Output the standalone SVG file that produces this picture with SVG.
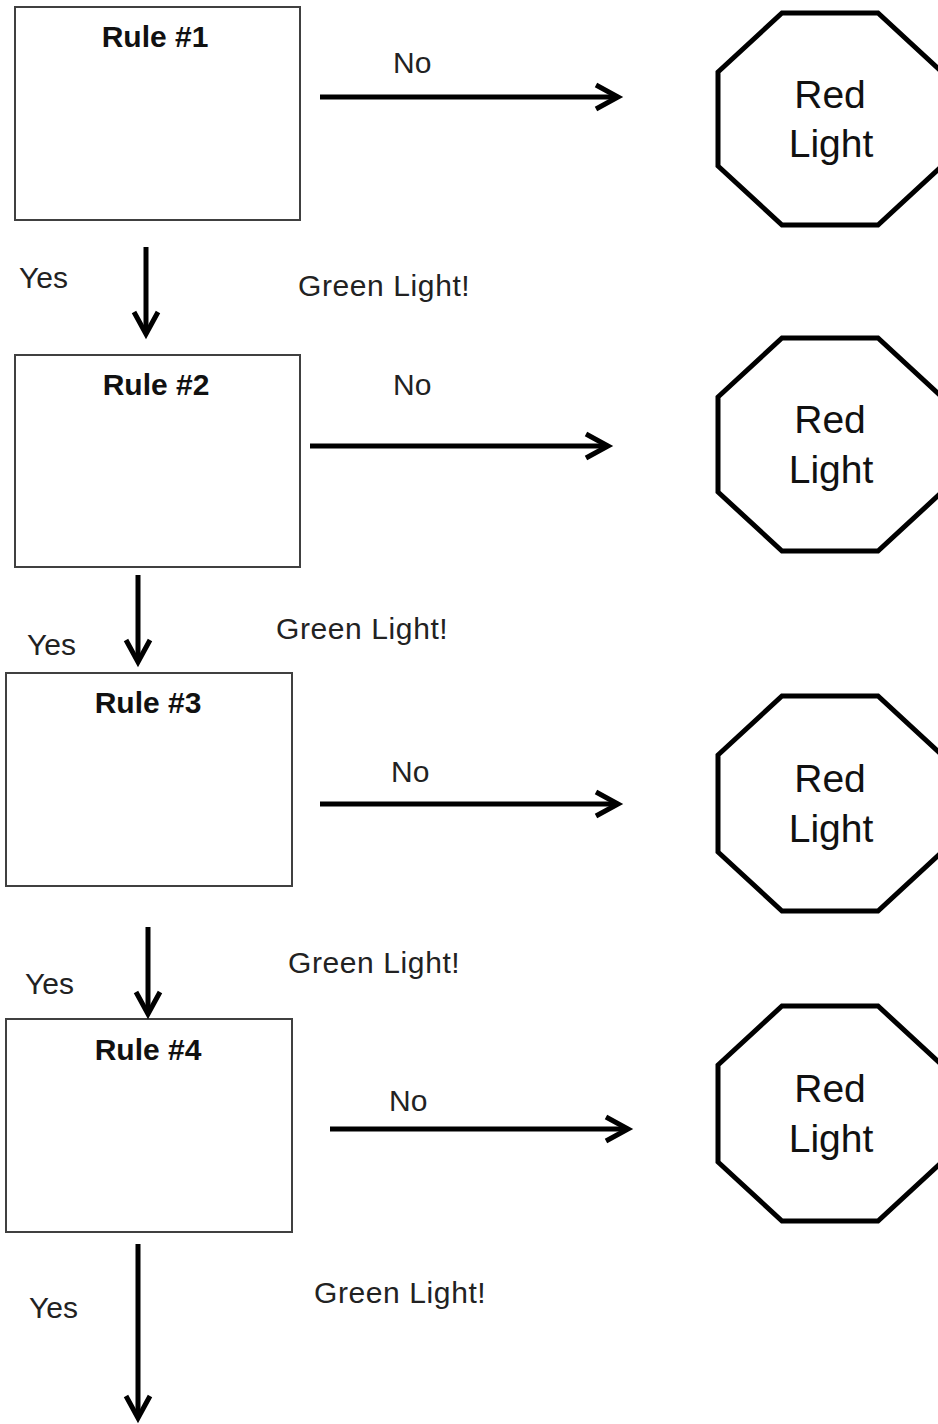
<svg xmlns="http://www.w3.org/2000/svg" width="938" height="1424" viewBox="0 0 938 1424">
<style>
.rule{fill:#fff;stroke:#404040;stroke-width:2}
.oct{fill:#fff;stroke:#000;stroke-width:5;stroke-linejoin:miter}
.title{font-family:"Liberation Sans",Arial,sans-serif;font-weight:bold;font-size:30px;fill:#111;text-anchor:middle}
.lbl{font-family:"Liberation Sans",Arial,sans-serif;font-size:30px;fill:#222}
.green{letter-spacing:0.6px}
.red{font-family:"Liberation Sans",Arial,sans-serif;font-size:39px;fill:#111;text-anchor:middle}
.conn{stroke:#000;stroke-width:5;fill:none;marker-end:url(#arr)}
</style>
<defs>
<marker id="arr" markerUnits="userSpaceOnUse" markerWidth="40" markerHeight="40" viewBox="-30 -20 40 40" refX="0" refY="0" orient="auto" overflow="visible">
<path d="M-22,-12 L0,0 L-22,12" fill="none" stroke="#000" stroke-width="5" stroke-linejoin="miter" stroke-linecap="butt"/>
</marker>
</defs>
<rect width="938" height="1424" fill="#fff"/>

<g id="rule1"><rect class="rule" x="15" y="7" width="285" height="213"/><text class="title" x="155" y="47">Rule #1</text></g>
<g id="rule2"><rect class="rule" x="15" y="355" width="285" height="212"/><text class="title" x="156" y="395">Rule #2</text></g>
<g id="rule3"><rect class="rule" x="6" y="673" width="286" height="213"/><text class="title" x="148" y="713">Rule #3</text></g>
<g id="rule4"><rect class="rule" x="6" y="1019" width="286" height="213"/><text class="title" x="148" y="1060">Rule #4</text></g>

<g id="red1"><polygon class="oct" points="782,13 878,13 942,72 942,166 878,225 782,225 718,166 718,72"/><text class="red" x="830" y="108">Red</text><text class="red" x="831" y="157">Light</text></g>
<g id="red2"><polygon class="oct" points="782,338 878,338 942,397 942,492 878,551 782,551 718,492 718,397"/><text class="red" x="830" y="433">Red</text><text class="red" x="831" y="483">Light</text></g>
<g id="red3"><polygon class="oct" points="782,696 878,696 942,755 942,852 878,911 782,911 718,852 718,755"/><text class="red" x="830" y="792">Red</text><text class="red" x="831" y="842">Light</text></g>
<g id="red4"><polygon class="oct" points="782,1006 878,1006 942,1065 942,1162 878,1221 782,1221 718,1162 718,1065"/><text class="red" x="830" y="1102">Red</text><text class="red" x="831" y="1152">Light</text></g>

<g id="connectors">
<line class="conn" x1="320" y1="97" x2="618" y2="97"/>
<line class="conn" x1="310" y1="446" x2="608" y2="446"/>
<line class="conn" x1="320" y1="804" x2="618" y2="804"/>
<line class="conn" x1="330" y1="1129" x2="628" y2="1129"/>
<line class="conn" x1="146" y1="247" x2="146" y2="334"/>
<line class="conn" x1="138" y1="575" x2="138" y2="662"/>
<line class="conn" x1="148" y1="927" x2="148" y2="1014"/>
<line class="conn" x1="138" y1="1244" x2="138" y2="1418"/>
</g>

<g id="labels">
<text class="lbl" x="393" y="73">No</text>
<text class="lbl" x="393" y="395">No</text>
<text class="lbl" x="391" y="782">No</text>
<text class="lbl" x="389" y="1111">No</text>
<text class="lbl" x="19" y="288">Yes</text>
<text class="lbl" x="27" y="655">Yes</text>
<text class="lbl" x="25" y="994">Yes</text>
<text class="lbl" x="29" y="1318">Yes</text>
<text class="lbl green" x="298" y="296">Green Light!</text>
<text class="lbl green" x="276" y="639">Green Light!</text>
<text class="lbl green" x="288" y="973">Green Light!</text>
<text class="lbl green" x="314" y="1303">Green Light!</text>
</g>
</svg>
